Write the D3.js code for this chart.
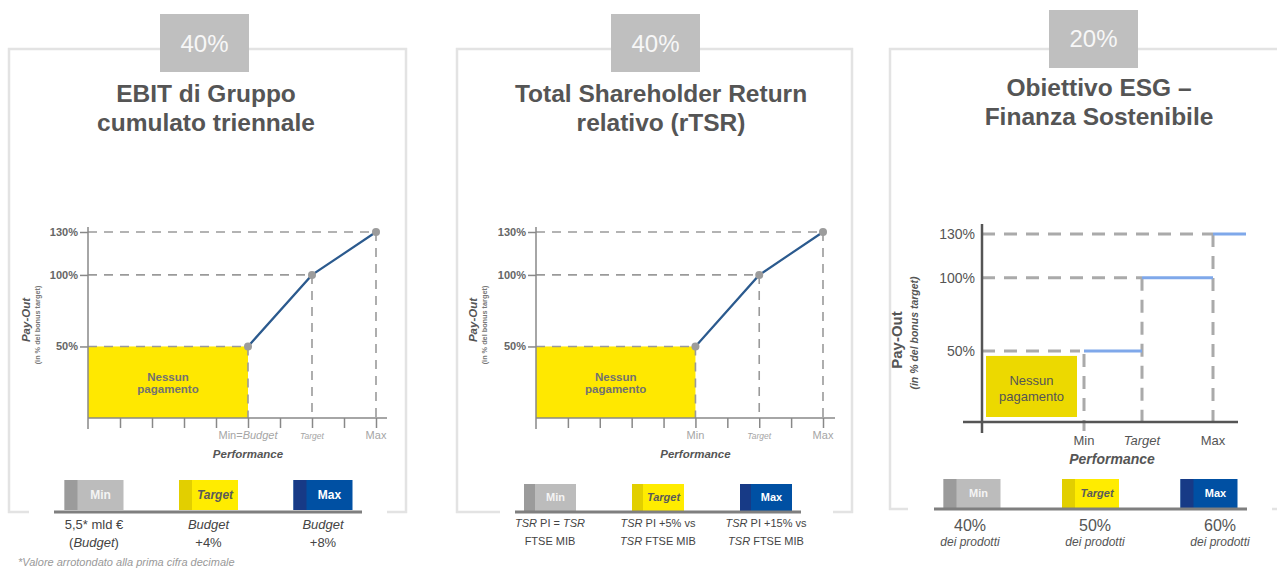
<!DOCTYPE html>
<html><head><meta charset="utf-8">
<script src="https://cdn.jsdelivr.net/npm/d3@7"></script>
<style>
body{margin:0;background:#fff;}
svg{display:block;font-family:"Liberation Sans",Arial,Helvetica,sans-serif;}
</style>
</head><body>
<svg id="c" width="1277" height="568"></svg>
<script>
// ---------- DATA ----------
const panelWeights = ["40%", "40%", "20%"];
const panelTitles = [
  ["EBIT di Gruppo", "cumulato triennale"],
  ["Total Shareholder Return", "relativo (rTSR)"],
  ["Obiettivo ESG –", "Finanza Sostenibile"]
];
const levels = ["Min", "Target", "Max"];
const yTickValues = [50, 100, 130];
const ebitPayout = [50, 100, 130];
const tsrPayout = [50, 100, 130];
const esgPayout = [50, 100, 130];
const ebitXTickLabels = ["", "", "", "", "", "Min=Budget", "", "Target", "", "Max"];
const tsrXTickLabels = ["", "", "", "", "", "Min", "", "Target", "", "Max"];
const esgXTickLabels = ["Min", "Target", "Max"];
const ebitLegendLabels = [["5,5* mld €", "(Budget)"], ["Budget", "+4%"], ["Budget", "+8%"]];
const tsrLegendLabels = [["TSR PI = TSR", "FTSE MIB"], ["TSR PI +5% vs", "TSR FTSE MIB"], ["TSR PI +15% vs", "TSR FTSE MIB"]];
const esgLegendLabels = [["40%", "dei prodotti"], ["50%", "dei prodotti"], ["60%", "dei prodotti"]];
const noPayText = ["Nessun", "pagamento"];
const yAxisTitle = ["Pay-Out", "(in % del bonus target)"];
const xAxisTitle = "Performance";
const footnote = "*Valore arrotondato alla prima cifra decimale";

// ---------- STYLE / LAYOUT ----------
const svg = d3.select("#c");
const boxColor = "#e3e3e3";
const tagColor = "#bfbfbf";
const titleColor = "#555";
const legendColors = {
  Min: {strip: "#9b9b9b", main: "#bcbcbc", text: "#f4f4f4", italic: false},
  Target: {strip: "#e2cf00", main: "#ffec00", text: "#5a5a5a", italic: true},
  Max: {strip: "#173a86", main: "#0050a3", text: "#ffffff", italic: false}
};

const panels = [
  {box: [9, 49, 397, 463], tag: [160, 14, 89, 58], tagBase: 52, titleX: 206, titleBase: [102, 131],
   gap: [29, 387], base: [54, 362], baseY: 512, blockRange: [94, 323], blockW: 59, blockTop: 480, blockH: 30,
   labelRange: [94, 323], labels: ebitLegendLabels, labelSize: 13, labelBase: [529, 547], blockFont: 12},
  {box: [457, 49, 395, 463], tag: [611, 14, 89, 58], tagBase: 52, titleX: 661, titleBase: [102, 131],
   gap: [500, 833], base: [515, 801], baseY: 512, blockRange: [550, 766], blockW: 52, blockTop: 484, blockH: 27,
   labelRange: [550, 766], labels: tsrLegendLabels, labelSize: 11, labelBase: [527, 545], blockFont: 11},
  {box: [890, 49, 420, 460], tag: [1049, 10, 89, 58], tagBase: 47, titleX: 1099, titleBase: [96, 125],
   gap: [908, 1272], base: [934, 1247], baseY: 509, blockRange: [972, 1209], blockW: 57, blockTop: 479, blockH: 29,
   labelRange: [970, 1220], labels: esgLegendLabels, labelSize: 16, labelBase: [531, 546], blockFont: 11}
];

function richText(sel, str, italicRe) {
  const parts = str.split(italicRe).filter(s => s !== "");
  parts.forEach(p => {
    sel.append("tspan").text(p).attr("font-style", italicRe.test(p) ? "italic" : null);
    italicRe.lastIndex = 0;
  });
}

// ---------- PANEL FRAMES ----------
panels.forEach((p, i) => {
  svg.append("rect").attr("x", p.box[0]).attr("y", p.box[1]).attr("width", p.box[2]).attr("height", p.box[3])
    .attr("fill", "none").attr("stroke", boxColor).attr("stroke-width", 2.5);
  svg.append("rect").attr("x", p.gap[0]).attr("y", p.baseY - 4).attr("width", p.gap[1] - p.gap[0]).attr("height", 8).attr("fill", "#fff");
  svg.append("rect").attr("x", p.tag[0]).attr("y", p.tag[1]).attr("width", p.tag[2]).attr("height", p.tag[3]).attr("fill", tagColor);
  svg.append("text").attr("x", p.tag[0] + p.tag[2] / 2).attr("y", p.tagBase).attr("text-anchor", "middle")
    .attr("font-size", 24).attr("fill", "#f7f7f7").text(panelWeights[i]);
  panelTitles[i].forEach((t, k) => {
    svg.append("text").attr("x", p.titleX).attr("y", p.titleBase[k]).attr("text-anchor", "middle")
      .attr("font-size", 24.5).attr("font-weight", "bold").attr("fill", titleColor).text(t);
  });
});

// ---------- CURVE CHARTS (EBIT, TSR) ----------
function drawCurve(cfg) {
  const g = svg.append("g");
  const x = d3.scalePoint().domain(d3.range(cfg.tickLabels.length)).range(cfg.xRange);
  const y = d3.scaleLinear().domain([0, 130]).range(cfg.yRange);
  const idx = levels.map(l => cfg.tickLabels.findIndex(t => t.startsWith(l)));
  const pts = cfg.payout.map((v, i) => ({x: x(idx[i]), y: y(v)}));
  const x0 = x(0), yb = y(0);

  g.append("rect").attr("x", x0).attr("y", pts[0].y).attr("width", pts[0].x - x0).attr("height", yb - pts[0].y).attr("fill", "#ffe800");
  noPayText.forEach((t, k) => g.append("text").attr("x", (x0 + pts[0].x) / 2).attr("y", 381 + k * 12)
    .attr("text-anchor", "middle").attr("font-size", 11.5).attr("font-weight", "bold").attr("fill", "#727272").text(t));

  const dash = {stroke: "#9a9a9a", w: 1.6, d: "9,7"};
  pts.forEach(p => {
    g.append("line").attr("x1", x0).attr("x2", p.x).attr("y1", p.y).attr("y2", p.y)
      .attr("stroke", dash.stroke).attr("stroke-width", dash.w).attr("stroke-dasharray", dash.d);
    g.append("line").attr("x1", p.x).attr("x2", p.x).attr("y1", p.y).attr("y2", yb)
      .attr("stroke", dash.stroke).attr("stroke-width", dash.w).attr("stroke-dasharray", dash.d);
  });

  // axes
  const ya = g.append("g").attr("transform", `translate(${x0},0)`)
    .call(d3.axisLeft(y).tickValues(yTickValues).tickFormat(d => d + "%").tickSizeInner(8).tickSizeOuter(0).tickPadding(2));
  ya.select(".domain").remove();
  ya.selectAll("line").attr("stroke", "#888").attr("stroke-width", 1.5);
  ya.selectAll("text").attr("font-size", 11).attr("font-weight", "bold").attr("fill", "#666").attr("font-family", "Liberation Sans, Arial, sans-serif");

  const xa = g.append("g").attr("transform", `translate(0,${yb})`)
    .call(d3.axisBottom(x).tickValues(d3.range(1, cfg.tickLabels.length)).tickFormat("").tickSizeInner(10).tickSizeOuter(0));
  xa.select(".domain").remove();
  xa.selectAll("line").attr("stroke", "#888").attr("stroke-width", 1.5);

  g.append("line").attr("x1", x0).attr("x2", x0).attr("y1", cfg.yTop).attr("y2", yb + 11).attr("stroke", "#888").attr("stroke-width", 1.5);
  g.append("line").attr("x1", x0).attr("x2", cfg.xEnd).attr("y1", yb).attr("y2", yb).attr("stroke", "#888").attr("stroke-width", 1.5);

  // curve
  g.append("path").datum(pts).attr("d", d3.line().x(d => d.x).y(d => d.y))
    .attr("fill", "none").attr("stroke", "#2b5a8e").attr("stroke-width", 2.2);
  g.selectAll("circle.pt").data(pts).join("circle").attr("cx", d => d.x).attr("cy", d => d.y).attr("r", 4).attr("fill", "#9c9c9c");

  // x labels
  cfg.tickLabels.forEach((t, i) => {
    if (!t) return;
    const isT = t === "Target";
    const tx = g.append("text").attr("x", x(i)).attr("y", yb + 21).attr("text-anchor", "middle")
      .attr("font-size", isT ? 8.5 : 11).attr("fill", "#a5a5a5").attr("font-style", isT ? "italic" : null);
    richText(tx, t, /(Budget)/g);
  });
  g.append("text").attr("x", pts[0].x).attr("y", yb + 40).attr("text-anchor", "middle")
    .attr("font-size", 11.5).attr("font-weight", "bold").attr("font-style", "italic").attr("fill", "#555").text(xAxisTitle);

  // y title
  const ty = g.append("g").attr("transform", `translate(${cfg.titleX},${(cfg.yRange[0] + cfg.yRange[1]) / 2}) rotate(-90)`);
  ty.append("text").attr("x", 5).attr("y", 0).attr("text-anchor", "middle").attr("font-size", 11.5)
    .attr("font-weight", "bold").attr("font-style", "italic").attr("fill", "#555").text(yAxisTitle[0]);
  ty.append("text").attr("x", 0).attr("y", 10).attr("text-anchor", "middle").attr("font-size", 7.3)
    .attr("font-weight", "bold").attr("fill", "#777").text(yAxisTitle[1]);
}

drawCurve({tickLabels: ebitXTickLabels, payout: ebitPayout, xRange: [88, 376], yRange: [418, 232], yTop: 227, xEnd: 387, titleX: 30});
drawCurve({tickLabels: tsrXTickLabels, payout: tsrPayout, xRange: [536, 823], yRange: [418, 232], yTop: 227, xEnd: 835, titleX: 477});

// ---------- STEP CHART (ESG) ----------
(function () {
  const g = svg.append("g");
  const x = d3.scaleOrdinal().domain(esgXTickLabels).range([1084, 1142, 1213]);
  const y = d3.scaleLinear().domain([0, 130]).range([424, 234]);
  const x0 = 982, axisY = 422, stepEnd = 1246;

  g.append("rect").attr("x", x0 + 4).attr("y", y(esgPayout[0]) + 5).attr("width", x(levels[0]) - x0 - 11)
    .attr("height", axisY - 5 - (y(esgPayout[0]) + 5)).attr("fill", "#ecd900");
  noPayText.forEach((t, k) => g.append("text").attr("x", (x0 + 4 + x(levels[0]) - 7) / 2).attr("y", 385 + k * 16)
    .attr("text-anchor", "middle").attr("font-size", 13).attr("fill", "#555").text(t));

  esgPayout.forEach((v, i) => {
    const lx = x(levels[i]);
    g.append("line").attr("x1", x0).attr("x2", lx - (i === 0 ? 4 : 0)).attr("y1", y(v)).attr("y2", y(v))
      .attr("stroke", "#aaa").attr("stroke-width", 3).attr("stroke-dasharray", "13,9");
    g.append("line").attr("x1", lx).attr("x2", lx).attr("y1", y(v) + (i === 0 ? 3 : 0)).attr("y2", 431)
      .attr("stroke", "#aaa").attr("stroke-width", 3).attr("stroke-dasharray", "13,9");
  });

  esgPayout.forEach((v, i) => {
    const a = x(levels[i]), b = i < levels.length - 1 ? x(levels[i + 1]) : stepEnd;
    g.append("line").attr("x1", a).attr("x2", b).attr("y1", y(v)).attr("y2", y(v))
      .attr("stroke", "#7fa8ea").attr("stroke-width", 3);
  });

  const ya = g.append("g").attr("transform", `translate(${x0},0)`)
    .call(d3.axisLeft(y).tickValues(yTickValues).tickFormat(d => d + "%").tickSize(0).tickPadding(7));
  ya.select(".domain").remove();
  ya.selectAll("text").attr("font-size", 14).attr("fill", "#555").attr("font-family", "Liberation Sans, Arial, sans-serif");

  g.append("line").attr("x1", x0).attr("x2", x0).attr("y1", 224).attr("y2", 433).attr("stroke", "#555").attr("stroke-width", 2.5);
  g.append("line").attr("x1", 963).attr("x2", 1238).attr("y1", axisY).attr("y2", axisY).attr("stroke", "#555").attr("stroke-width", 2.5);

  esgXTickLabels.forEach(t => {
    g.append("text").attr("x", x(t)).attr("y", 445).attr("text-anchor", "middle").attr("font-size", 13)
      .attr("fill", "#555").attr("font-style", t === "Target" ? "italic" : null).text(t);
  });
  g.append("text").attr("x", 1112).attr("y", 464).attr("text-anchor", "middle").attr("font-size", 14)
    .attr("font-weight", "bold").attr("font-style", "italic").attr("fill", "#555").text(xAxisTitle);

  const ty = g.append("g").attr("transform", `translate(902,340) rotate(-90)`);
  ty.append("text").attr("x", 0).attr("y", 0).attr("text-anchor", "middle").attr("font-size", 15)
    .attr("font-weight", "bold").attr("fill", "#555").text(yAxisTitle[0]);
  ty.append("text").attr("x", 7).attr("y", 16).attr("text-anchor", "middle").attr("font-size", 10.5)
    .attr("font-weight", "bold").attr("font-style", "italic").attr("fill", "#555").text(yAxisTitle[1]);
})();

// ---------- LEGENDS ----------
panels.forEach(p => {
  const bx = d3.scalePoint().domain(levels).range(p.blockRange);
  const lx = d3.scalePoint().domain(levels).range(p.labelRange);
  const g = svg.append("g");
  levels.forEach((lv, i) => {
    const c = legendColors[lv];
    const left = bx(lv) - p.blockW / 2;
    const strip = Math.round(p.blockW * 0.22);
    g.append("rect").attr("x", left).attr("y", p.blockTop).attr("width", p.blockW).attr("height", p.blockH).attr("fill", c.main);
    g.append("rect").attr("x", left).attr("y", p.blockTop).attr("width", strip).attr("height", p.blockH).attr("fill", c.strip);
    g.append("text").attr("x", left + strip + (p.blockW - strip) / 2).attr("y", p.blockTop + p.blockH / 2 + p.blockFont * 0.36)
      .attr("text-anchor", "middle").attr("font-size", p.blockFont).attr("font-weight", "bold")
      .attr("font-style", c.italic ? "italic" : null).attr("fill", c.text).text(lv);
    p.labels[i].forEach((t, k) => {
      const isEsg = p.labels === esgLegendLabels;
      const tx = g.append("text").attr("x", lx(lv)).attr("y", p.labelBase[k]).attr("text-anchor", "middle")
        .attr("font-size", isEsg && k === 1 ? 12 : p.labelSize).attr("fill", isEsg ? "#555" : "#444")
        .attr("font-style", isEsg && k === 1 ? "italic" : null);
      richText(tx, t, /(TSR|Budget)/g);
    });
  });
  g.append("line").attr("x1", p.base[0]).attr("x2", p.base[1]).attr("y1", p.baseY).attr("y2", p.baseY)
    .attr("stroke", "#7f7f7f").attr("stroke-width", 3);
});

svg.append("text").attr("x", 18).attr("y", 566).attr("font-size", 11).attr("font-style", "italic").attr("fill", "#999").text(footnote);
</script>
</body></html>
